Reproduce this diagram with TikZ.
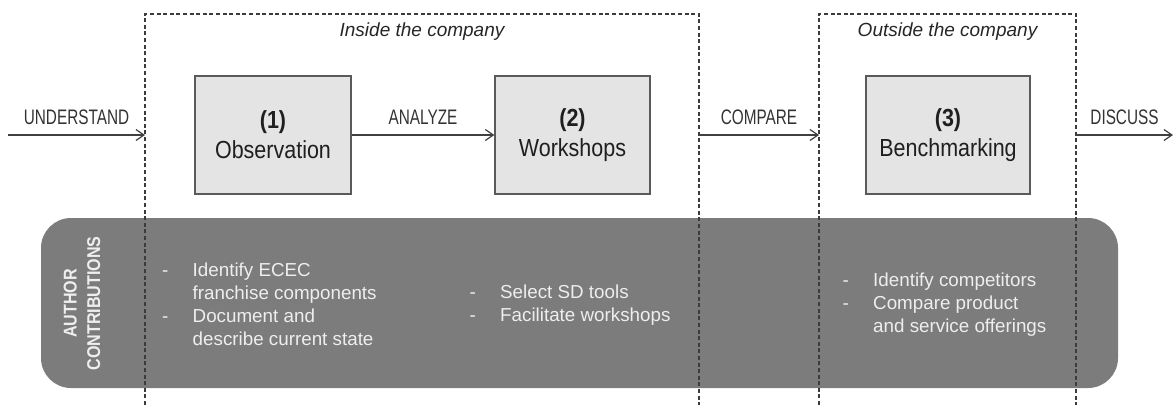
\documentclass[tikz,border=0pt]{standalone}
\usepackage{fontspec}
\setmainfont{Liberation Sans}
\newfontfamily\labelfont[FakeStretch=0.73]{Liberation Sans}
\newfontfamily\boxfont[FakeStretch=0.87]{Liberation Sans}
\usetikzlibrary{positioning, arrows.meta}
\definecolor{framegray}{RGB}{60,60,60}
\definecolor{boxfill}{RGB}{228,228,228}
\definecolor{boxline}{RGB}{90,90,90}
\definecolor{panelgray}{RGB}{124,124,124}
\definecolor{paneltext}{RGB}{238,238,238}
\newcommand{\dashitem}{\makebox[30.5pt][l]{-}}
\newcommand{\dashgap}{\hspace*{30.5pt}}

\begin{document}
\begin{tikzpicture}[x=1pt, y=-1pt,
    frame/.style={draw=framegray, line width=1.2pt, dash pattern=on 4pt off 2.6pt},
    stage/.style={draw=boxline, fill=boxfill, line width=1.3pt, minimum height=118pt,
        align=center, text=black!88, font=\boxfont\fontsize{24.7}{30}\selectfont},
    flow/.style={draw=black!75, line width=1.2pt, -{Straight Barb[length=8pt, width=11pt]}},
    verb/.style={above=10pt, inner sep=0pt, text=black!80, font=\labelfont\fontsize{21}{24}\selectfont},
    area/.style={inner sep=0pt, text=black!85, font=\itshape\fontsize{19}{22}\selectfont},
    panel/.style={fill=panelgray, rounded corners=30pt, minimum width=1077pt, minimum height=170pt},
    notes/.style={inner sep=0pt, align=left, text=paneltext, font=\fontsize{18.8}{22.8}\selectfont}]
    \useasboundingbox (0,0) rectangle (1174,405);

    % Author contributions
    \node[panel] (contrib) at (579.5,303) {};
    \node[rotate=90, inner sep=0pt, align=center, text=paneltext,
        font=\boxfont\bfseries\fontsize{18.5}{23.7}\selectfont] (authors) at (82,303.5) {AUTHOR\\CONTRIBUTIONS};

    % Inside the company
    \coordinate (inL) at (145,14);
    \coordinate (inR) at (699,14);
    \draw[frame] (145,405) -- (inL) -- (inR) -- (699,405);
    \node[area, anchor=base] (inside) at (422,36) {Inside the company};

    % Outside the company
    \coordinate (outL) at (819,14);
    \coordinate (outR) at (1076,14);
    \draw[frame] (819,405) -- (outL) -- (outR) -- (1076,405);
    \node[area, anchor=base] (outside) at (947.5,36) {Outside the company};

    % Stages
    \node[stage, minimum width=156pt] (obs) at (273,135) {\textbf{(1)}\\Observation};
    \node[stage, minimum width=155pt] (ws) at (572.5,135) {\textbf{(2)}\\Workshops};
    \node[stage, minimum width=164pt] (bench) at (948,135) {\textbf{(3)}\\Benchmarking};

    % Flow
    \coordinate (entry) at (8,135);
    \coordinate (exit) at (1173,135);
    \draw[flow] (entry) -- (obs.west -| inL) node[midway, verb] {UNDERSTAND};
    \draw[flow] (obs) -- (ws) node[midway, verb] {ANALYZE};
    \draw[flow] (ws.east -| inR) -- (bench.west -| outL) node[midway, verb] {COMPARE};
    \draw[flow] (bench.east -| outR) -- (exit) node[midway, verb] {DISCUSS};

    % Notes (base = last line)
    \node[notes, anchor=base west] (obsnotes) at (162,345)
        {\dashitem Identify ECEC\\\dashgap franchise components\\\dashitem Document and\\\dashgap describe current state};
    \node[notes, anchor=base west] (wsnotes) at (469.5,321.5)
        {\dashitem Select SD tools\\\dashitem Facilitate workshops};
    \node[notes, anchor=base west] (benchnotes) at (842.5,332)
        {\dashitem Identify competitors\\\dashitem Compare product\\\dashgap and service offerings};
\end{tikzpicture}
\end{document}
